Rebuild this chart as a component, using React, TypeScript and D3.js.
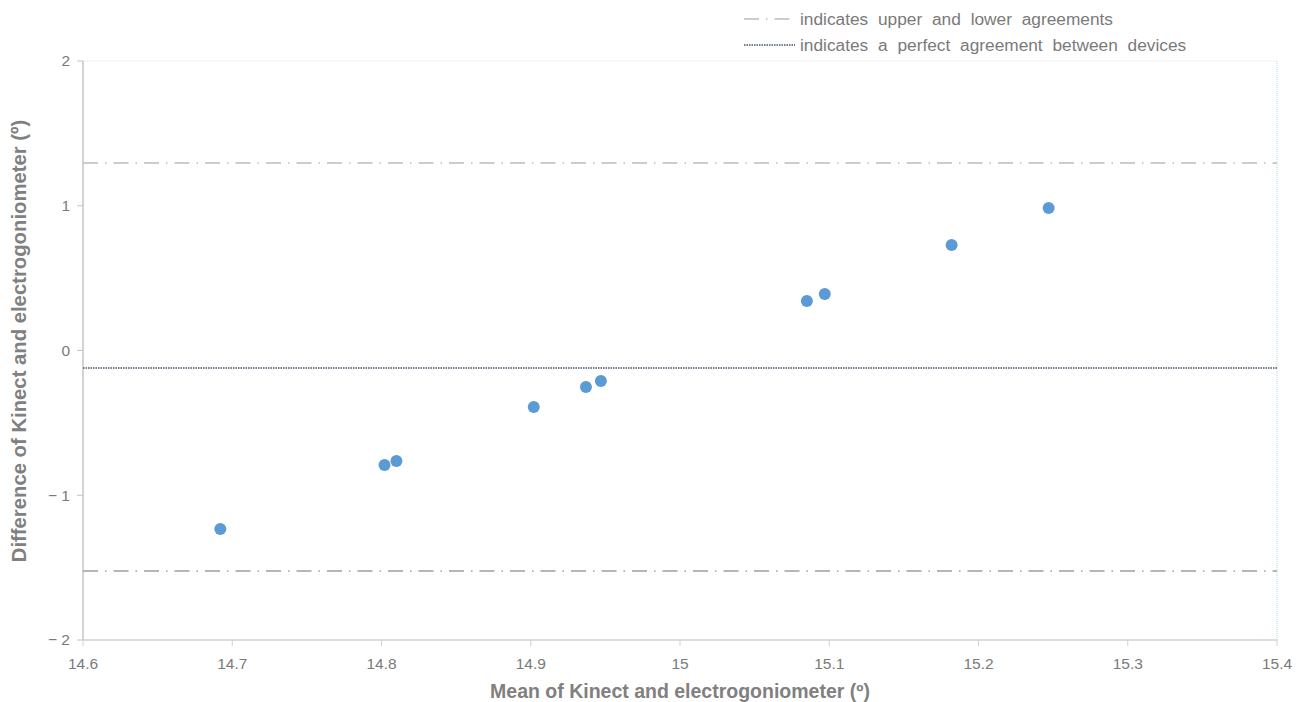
import { scaleLinear } from 'd3';

const WIDTH = 1304;
const HEIGHT = 702;
const MARGIN = { top: 61, right: 27, bottom: 62, left: 83 };

// Bland-Altman points: mean of devices vs difference
const meanValues = [14.692, 14.802, 14.81, 14.902, 14.937, 14.947, 15.085, 15.097, 15.182, 15.247];
const diffValues = [-1.233, -0.791, -0.763, -0.39, -0.252, -0.211, 0.342, 0.39, 0.729, 0.984];

const xTicks = [14.6, 14.7, 14.8, 14.9, 15, 15.1, 15.2, 15.3, 15.4];
const yTicks = [-2, -1, 0, 1, 2];

const upperLimit = 1.295;
const lowerLimit = -1.523;
const meanDiff = -0.121;

const legendLabels = [
  'indicates upper and lower agreements',
  'indicates a perfect agreement between devices',
];

const FONT = '"Liberation Sans", Arial, sans-serif';
const TEXT = '#7a7a7a';
const DOT = '#5b9bd5';

export default function App() {
  const x = scaleLinear()
    .domain([14.6, 15.4])
    .range([MARGIN.left, WIDTH - MARGIN.right]);
  const y = scaleLinear()
    .domain([-2, 2])
    .range([HEIGHT - MARGIN.bottom, MARGIN.top]);

  const x0 = x(14.6);
  const x1 = x(15.4);
  const y0 = y(-2);
  const y1 = y(2);
  const fmtY = (v: number) => (v < 0 ? `\u2212 ${Math.abs(v)}` : `${v}`);

  return (
    <svg
      width={WIDTH}
      height={HEIGHT}
      style={{ position: 'absolute', left: 0, top: 0, fontFamily: FONT }}
    >
      <rect width={WIDTH} height={HEIGHT} fill="#fff" />

      {/* frame */}
      <line x1={x0} y1={y1} x2={x1} y2={y1} stroke="#e4e4e4" strokeDasharray="1 1" />
      <line x1={x1} y1={y1} x2={x1} y2={y0} stroke="#b8d3ea" strokeDasharray="1 1" />
      <line x1={x0} y1={y0} x2={x1} y2={y0} stroke="#d0d0d0" strokeWidth={1.5} />
      <line x1={x0} y1={y1} x2={x0} y2={y0} stroke="#c4c4c4" strokeWidth={1.5} />

      {/* y ticks */}
      {yTicks.map((t) => (
        <g key={`y${t}`}>
          <line x1={x0 - 6} x2={x0} y1={y(t)} y2={y(t)} stroke="#c4c4c4" />
          <text x={x0 - 13} y={y(t)} dy="0.35em" textAnchor="end" fontSize={15.5} fill={TEXT}>
            {fmtY(t)}
          </text>
        </g>
      ))}

      {/* x ticks */}
      {xTicks.map((t) => (
        <g key={`x${t}`}>
          <line x1={x(t)} x2={x(t)} y1={y0} y2={y0 + 6} stroke="#d0d0d0" />
          <text x={x(t)} y={y0 + 29} textAnchor="middle" fontSize={15.5} fill={TEXT}>
            {t}
          </text>
        </g>
      ))}

      {/* limits of agreement */}
      <line
        x1={x0} x2={x1} y1={y(upperLimit)} y2={y(upperLimit)}
        stroke="#bdbdbd" strokeWidth={1.5} strokeDasharray="15 7 1.5 7"
      />
      <line
        x1={x0} x2={x1} y1={y(lowerLimit)} y2={y(lowerLimit)}
        stroke="#9e9e9e" strokeWidth={1.5} strokeDasharray="15 7 1.5 7"
      />
      <line
        x1={x0} x2={x1} y1={y(meanDiff)} y2={y(meanDiff)}
        stroke="#44546a" strokeWidth={1.5} strokeDasharray="1.5 1"
      />

      {/* points */}
      {meanValues.map((m, i) => (
        <circle key={i} cx={x(m)} cy={y(diffValues[i])} r={6} fill={DOT} />
      ))}

      {/* legend */}
      <line x1={744} x2={790} y1={19} y2={19} stroke="#bdbdbd" strokeWidth={1.5} strokeDasharray="15 7 1.5 7" />
      <line x1={744} x2={795} y1={45} y2={45} stroke="#44546a" strokeWidth={1.5} strokeDasharray="1.5 1" />
      <text x={800} y={19} dy="0.35em" fontSize={17.3} fill={TEXT} wordSpacing={5}>
        {legendLabels[0]}
      </text>
      <text x={800} y={45} dy="0.35em" fontSize={17.3} fill={TEXT} wordSpacing={5}>
        {legendLabels[1]}
      </text>

      {/* axis titles */}
      <text x={680} y={698} textAnchor="middle" fontSize={19.5} fontWeight="bold" fill="#808080">
        Mean of Kinect and electrogoniometer (º)
      </text>
      <text
        transform={`translate(26, ${341}) rotate(-90)`}
        textAnchor="middle"
        fontSize={20.3}
        fontWeight="bold"
        fill="#808080"
      >
        Difference of Kinect and electrogoniometer (º)
      </text>
    </svg>
  );
}
